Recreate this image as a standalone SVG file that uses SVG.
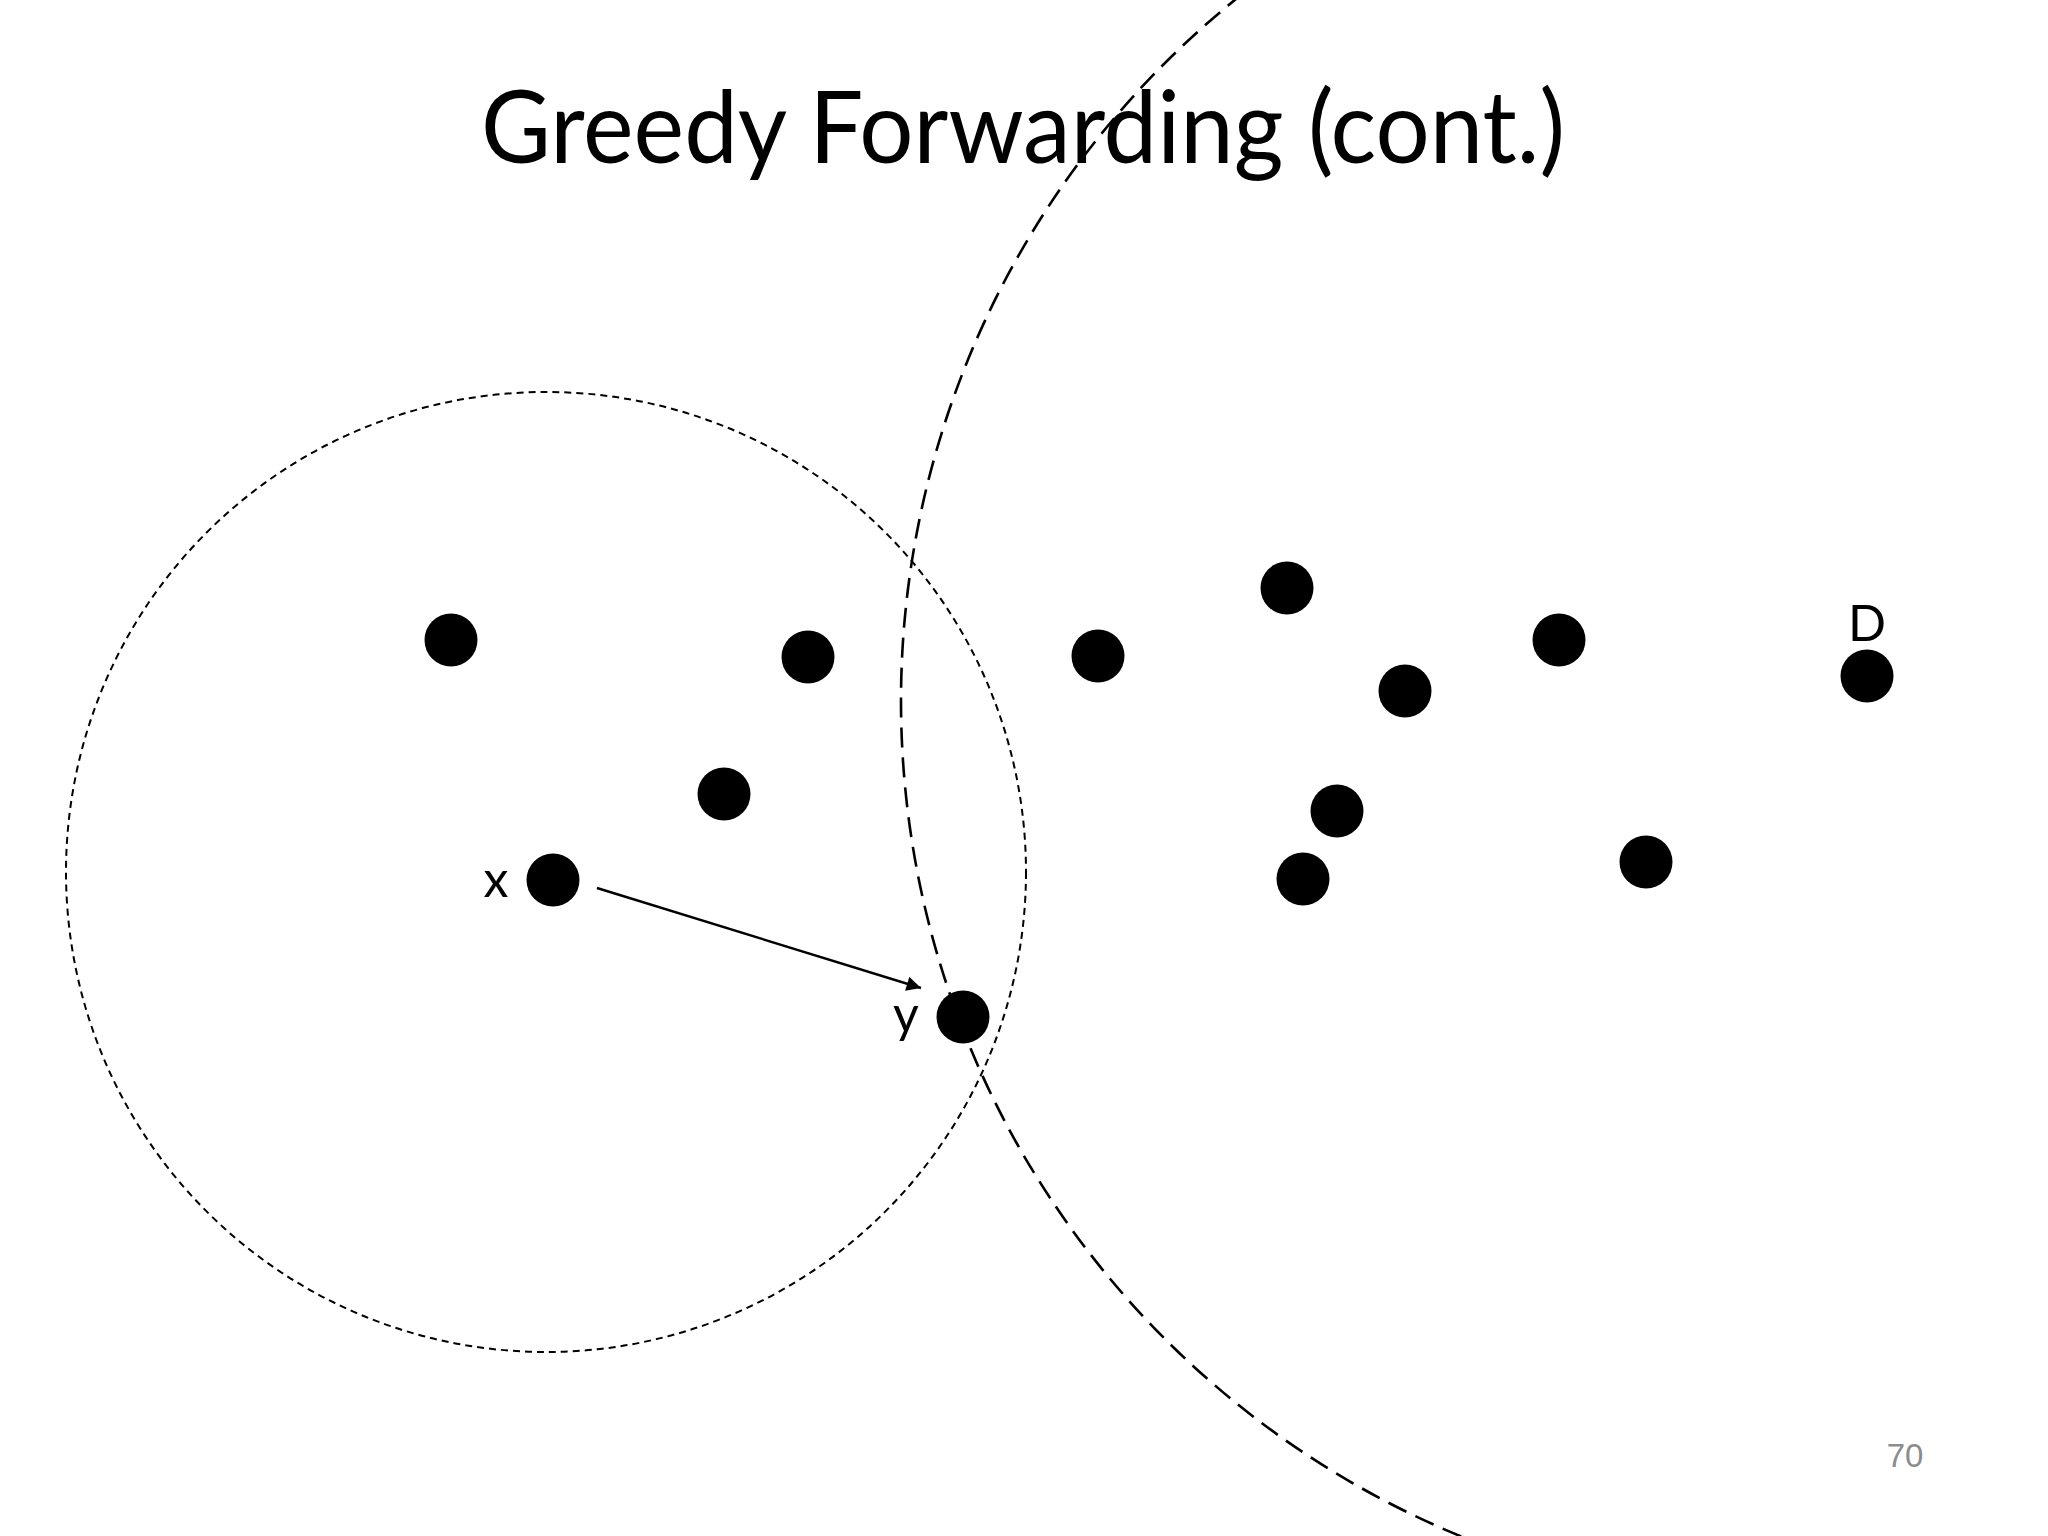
<svg xmlns="http://www.w3.org/2000/svg" width="2048" height="1536" viewBox="0 0 2048 1536">
<defs>
<style>
.node{fill:#000}
.lbl{font-family:Lato,"Open Sans","Liberation Sans",sans-serif;font-size:50px;fill:#000}
.range{fill:none;stroke:#000;stroke-width:2}
.big{fill:none;stroke:#000;stroke-width:2.6;stroke-dasharray:20 10}
.edge{fill:none;stroke:#000;stroke-width:2.4}
</style>
<marker id="ah" viewBox="0 0 10 10" refX="10" refY="5" markerWidth="7.5" markerHeight="6" markerUnits="strokeWidth" orient="auto">
<path d="M0,0 L10,5 L0,10 z" fill="#000"/>
</marker>
</defs>
<rect width="2048" height="1536" fill="#fff"/>
<text x="1023" y="163" text-anchor="middle" font-family="Lato,'Open Sans','Liberation Sans',sans-serif" font-size="100" textLength="1084" lengthAdjust="spacingAndGlyphs" fill="#000">Greedy Forwarding (cont.)</text>
<g id="ranges">
<circle class="range" cx="546" cy="872" r="480" stroke-dasharray="7 5"/>
<circle class="big" cx="1804" cy="701" r="903"/>
</g>
<g id="connectors">
<line class="edge" x1="597" y1="888" x2="921" y2="988" marker-end="url(#ah)"/>
</g>
<g id="n1"><circle class="node" cx="451" cy="640" r="26.5"/></g>
<g id="n2"><circle class="node" cx="808" cy="657" r="26.5"/></g>
<g id="n3"><circle class="node" cx="1098" cy="656" r="26.5"/></g>
<g id="n4"><circle class="node" cx="1287" cy="588" r="26.5"/></g>
<g id="n5"><circle class="node" cx="1405" cy="691" r="26.5"/></g>
<g id="n6"><circle class="node" cx="1559" cy="640" r="26.5"/></g>
<g id="nD"><circle class="node" cx="1867" cy="676" r="26.5"/><text class="lbl" x="1867" y="641" text-anchor="middle">D</text></g>
<g id="n7"><circle class="node" cx="724" cy="794" r="26.5"/></g>
<g id="n8"><circle class="node" cx="1337" cy="811" r="26.5"/></g>
<g id="n9"><circle class="node" cx="1303" cy="879" r="26.5"/></g>
<g id="n10"><circle class="node" cx="1646" cy="862" r="26.5"/></g>
<g id="nx"><circle class="node" cx="553" cy="880" r="26.5"/><text class="lbl" x="496" y="897" text-anchor="middle">x</text></g>
<g id="ny"><circle class="node" cx="963" cy="1017" r="26.5"/><text class="lbl" x="906" y="1032" text-anchor="middle">y</text></g>
<text x="1905" y="1467" text-anchor="middle" font-family="'Liberation Sans',Arial,sans-serif" font-size="33" fill="#8c8c8c">70</text>
</svg>
